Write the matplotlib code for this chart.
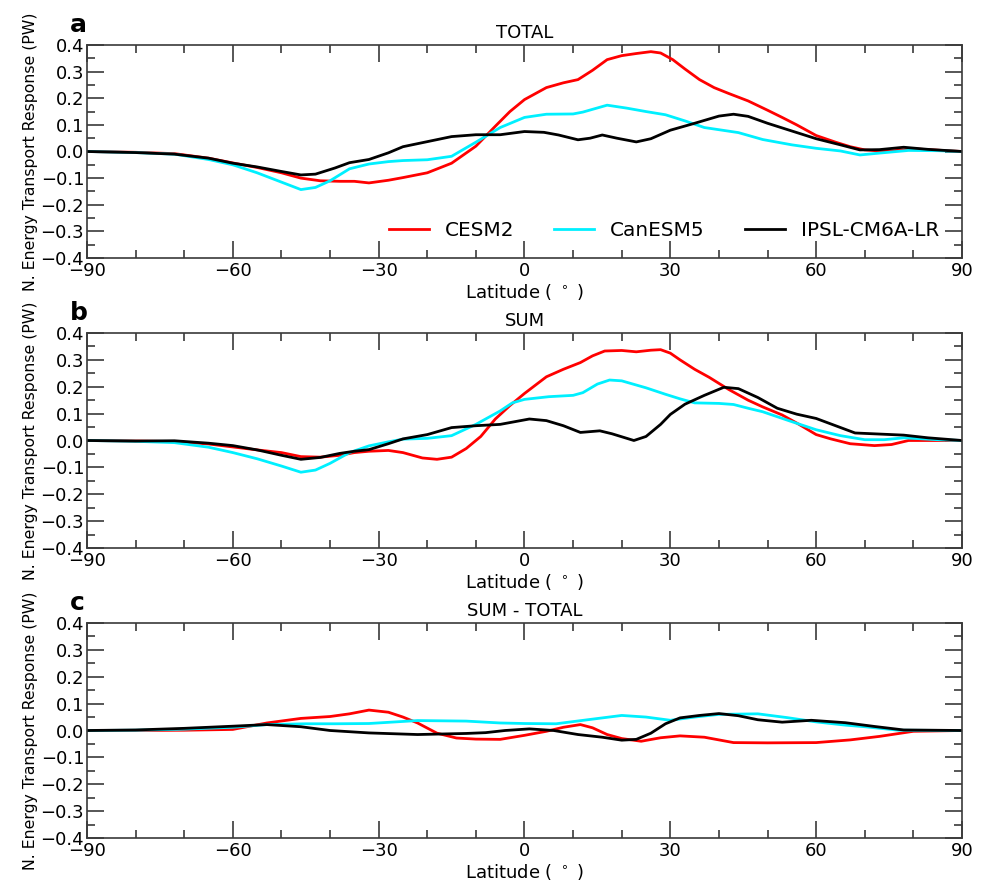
import matplotlib
matplotlib.use("Agg")
import matplotlib.pyplot as plt
from matplotlib.ticker import MultipleLocator

# ---------------- data ----------------
models = ["CESM2", "CanESM5", "IPSL-CM6A-LR"]
colors = ["#ff0000", "#00f0ff", "#000000"]
panel_titles = ["TOTAL", "SUM", "SUM - TOTAL"]
panel_letters = ["a", "b", "c"]
xticks = [-90, -60, -30, 0, 30, 60, 90]
yticks = [-0.4, -0.3, -0.2, -0.1, 0.0, 0.1, 0.2, 0.3, 0.4]

# Panel a: TOTAL
lat_a_cesm = [-90, -80, -72, -65, -60, -55, -50, -46, -42, -38, -35, -32, -28, -25, -20, -15, -10, -6, -3, 0,
              4.5, 8, 11, 14, 17, 20, 23, 26, 28, 30.5, 33, 36, 39, 42, 46, 50, 53, 56, 60, 64, 67, 70, 73,
              76, 80, 85, 90]
val_a_cesm = [0, -0.003, -0.008, -0.025, -0.043, -0.06, -0.08, -0.1, -0.11, -0.112, -0.112, -0.118, -0.108,
              -0.098, -0.08, -0.044, 0.02, 0.095, 0.15, 0.195, 0.24, 0.258, 0.27, 0.305, 0.345, 0.36, 0.368,
              0.375, 0.37, 0.345, 0.31, 0.27, 0.24, 0.218, 0.19, 0.155, 0.128, 0.1, 0.06, 0.035, 0.018, 0.006,
              0.002, 0.003, 0.01, 0.005, 0]
lat_a_can = [-90, -80, -72, -65, -60, -55, -50, -46, -43, -40, -36, -32, -28, -25, -20, -15, -10, -5, 0, 4.5,
             10, 12, 17, 21, 25, 29, 33, 37, 44, 49, 55, 60, 65, 69, 73, 79, 85, 90]
val_a_can = [0, -0.004, -0.01, -0.03, -0.05, -0.08, -0.115, -0.143, -0.135, -0.11, -0.065, -0.047, -0.038,
             -0.034, -0.031, -0.018, 0.035, 0.09, 0.128, 0.14, 0.141, 0.148, 0.174, 0.163, 0.15, 0.138, 0.115,
             0.09, 0.071, 0.045, 0.025, 0.012, 0.002, -0.013, -0.006, 0.004, 0.003, 0]
lat_a_ipsl = [-90, -80, -72, -65, -60, -55, -50, -46, -43, -39, -36, -32, -28, -25, -20, -15, -10, -5, 0, 4,
              7, 11, 13.5, 16, 19, 23, 26, 30, 35, 40, 43, 46, 50, 55, 60, 65, 69, 73, 78, 83, 90]
val_a_ipsl = [0, -0.004, -0.01, -0.025, -0.044, -0.058, -0.075, -0.088, -0.085, -0.062, -0.042, -0.03,
              -0.005, 0.018, 0.037, 0.056, 0.063, 0.063, 0.075, 0.072, 0.062, 0.044, 0.05, 0.062, 0.05, 0.036,
              0.048, 0.08, 0.106, 0.133, 0.14, 0.132, 0.106, 0.077, 0.048, 0.025, 0.006, 0.007, 0.016, 0.008, 0]

# Panel b: SUM
lat_b_cesm = [-90, -80, -72, -65, -60, -55, -50, -46, -42, -38, -35, -32, -28, -25, -21, -18, -15, -12, -9, -6,
              -3, 0, 4.5, 8, 11.5, 14, 16.5, 20, 23, 26, 28, 30, 32, 35, 38, 42, 46, 49, 53, 56, 60, 63, 67, 72,
              75.5, 79, 85, 90]
val_b_cesm = [0, -0.002, -0.004, -0.013, -0.024, -0.035, -0.045, -0.06, -0.062, -0.055, -0.045, -0.04, -0.037,
              -0.045, -0.065, -0.07, -0.062, -0.03, 0.015, 0.08, 0.13, 0.175, 0.237, 0.265, 0.29, 0.315, 0.333,
              0.335, 0.33, 0.336, 0.338, 0.325, 0.3, 0.265, 0.235, 0.19, 0.15, 0.125, 0.095, 0.065, 0.022, 0.006,
              -0.012, -0.019, -0.015, 0.0, 0.0, 0]
lat_b_can = [-90, -80, -72, -65, -60, -55, -50, -46, -43, -40, -36, -32, -28, -25, -20, -15, -10, -5, -2.5, 0,
             5, 10, 12, 15, 17.5, 20, 25, 29, 32, 35, 40, 43, 46, 49, 55, 60, 65, 70, 74, 78, 85, 90]
val_b_can = [0, -0.003, -0.008, -0.025, -0.045, -0.068, -0.095, -0.118, -0.11, -0.085, -0.045, -0.02, -0.005,
             0.005, 0.008, 0.018, 0.06, 0.11, 0.14, 0.153, 0.163, 0.168, 0.178, 0.21, 0.225, 0.222, 0.196,
             0.172, 0.155, 0.14, 0.138, 0.134, 0.12, 0.107, 0.07, 0.04, 0.018, 0.003, 0.003, 0.01, 0.003, 0]
lat_b_ipsl = [-90, -80, -72, -65, -60, -55, -50, -46, -42, -38, -35, -32, -28, -25, -20, -15, -10, -5, -2, 1,
              4.5, 8, 11.5, 15.5, 18, 22.5, 25, 28, 30, 33, 37, 41, 44, 48, 52, 56, 60, 64, 68, 73, 78, 83, 90]
val_b_ipsl = [0, -0.002, -0.001, -0.01, -0.019, -0.035, -0.055, -0.07, -0.063, -0.048, -0.04, -0.034, -0.012,
              0.006, 0.022, 0.048, 0.055, 0.06, 0.07, 0.08, 0.074, 0.055, 0.03, 0.036, 0.025, 0.0, 0.015, 0.06,
              0.097, 0.135, 0.168, 0.198, 0.193, 0.16, 0.12, 0.098, 0.082, 0.055, 0.028, 0.024, 0.02, 0.01, 0]

# Panel c: SUM - TOTAL
lat_c_cesm = [-90, -80, -70, -60, -53, -46, -40, -36, -32, -28, -25, -22, -18, -14, -10, -5, 0, 4.5, 8, 11.5,
              14, 17, 20, 24, 28, 32, 37, 43, 50, 60, 67, 73, 80, 90]
val_c_cesm = [0, 0.0, 0.001, 0.004, 0.028, 0.045, 0.052, 0.062, 0.076, 0.068, 0.05, 0.028, -0.01, -0.028,
              -0.032, -0.033, -0.018, -0.003, 0.012, 0.022, 0.01, -0.015, -0.03, -0.04, -0.027, -0.02, -0.025,
              -0.045, -0.046, -0.045, -0.035, -0.022, -0.003, 0]
lat_c_can = [-90, -80, -70, -60, -53, -45, -39, -32, -22, -12, -5, 0, 6.5, 13, 20, 25, 30, 35, 40, 48, 54, 60,
             66, 70, 77, 90]
val_c_can = [0, 0.001, 0.005, 0.012, 0.022, 0.025, 0.025, 0.026, 0.037, 0.035, 0.028, 0.026, 0.025, 0.04,
             0.056, 0.05, 0.038, 0.05, 0.06, 0.062, 0.048, 0.032, 0.02, 0.014, 0.001, 0]
lat_c_ipsl = [-90, -80, -70, -60, -53, -46, -40, -32, -22, -12, -8, -4, 1, 6, 11, 16, 20, 23, 26, 29, 32, 36,
              40, 44, 48, 53, 59, 66, 72, 78, 90]
val_c_ipsl = [0, 0.002, 0.008, 0.016, 0.022, 0.014, 0.0, -0.009, -0.015, -0.011, -0.008, 0.0, 0.006, 0.0,
              -0.015, -0.025, -0.036, -0.033, -0.01, 0.025, 0.047, 0.056, 0.063, 0.055, 0.04, 0.031, 0.038,
              0.029, 0.015, 0.002, 0]

panels = [
    [(lat_a_cesm, val_a_cesm), (lat_a_can, val_a_can), (lat_a_ipsl, val_a_ipsl)],
    [(lat_b_cesm, val_b_cesm), (lat_b_can, val_b_can), (lat_b_ipsl, val_b_ipsl)],
    [(lat_c_cesm, val_c_cesm), (lat_c_can, val_c_can), (lat_c_ipsl, val_c_ipsl)],
]

# ---------------- figure ----------------
fig = plt.figure(figsize=(9.87, 8.83), dpi=100)
W, H = 987.0, 883.0
left, right = 87 / W, 962 / W
tops = [45, 333, 623]
bottoms = [258, 548, 838]
spine_col = "#3a3a3a"

for i, series in enumerate(panels):
    ax = fig.add_axes([left, 1 - bottoms[i] / H, right - left, (bottoms[i] - tops[i]) / H])
    lines = []
    for (lat, val), name, col in zip(series, models, colors):
        ln, = ax.plot(lat, val, color=col, lw=2.0, label=name)
        lines.append(ln)
    ax.set_xlim(-90, 90)
    ax.set_ylim(-0.4, 0.4)
    ax.set_xticks(xticks)
    ax.set_xticklabels([str(t).replace("-", "\u2212") for t in xticks])
    ax.set_yticks(yticks)
    ax.set_yticklabels([f"{t:.1f}".replace("-", "\u2212") for t in yticks])
    ax.xaxis.set_minor_locator(MultipleLocator(10))
    ax.yaxis.set_minor_locator(MultipleLocator(0.05))
    ax.tick_params(which="both", direction="in", top=True, right=True, width=1.2,
                   color=spine_col, labelsize=13)
    ax.tick_params(which="major", length=12, pad=2)
    ax.tick_params(axis="x", which="major", pad=3)
    ax.tick_params(which="minor", length=6)
    for s in ax.spines.values():
        s.set_color(spine_col)
        s.set_linewidth(1.2)
    ax.set_xlabel(r"Latitude ( $^\circ$ )", fontsize=13, labelpad=1)
    ax.set_ylabel("N. Energy Transport Response (PW)", fontsize=11.3, labelpad=2)
    ax.set_title(panel_titles[i], fontsize=13, pad=5)
    ax.text(-0.019, 1.061, panel_letters[i], transform=ax.transAxes, fontsize=18,
            fontweight="bold", ha="left", va="baseline")
    if i == 0:
        ax.legend(handles=lines, loc="center right", bbox_to_anchor=(0.983, 0.13),
                  ncol=3, frameon=False, fontsize=14.4, handlelength=2.0,
                  handletextpad=0.8, columnspacing=2.0, borderaxespad=0)

fig.savefig("out.png", dpi=100)
